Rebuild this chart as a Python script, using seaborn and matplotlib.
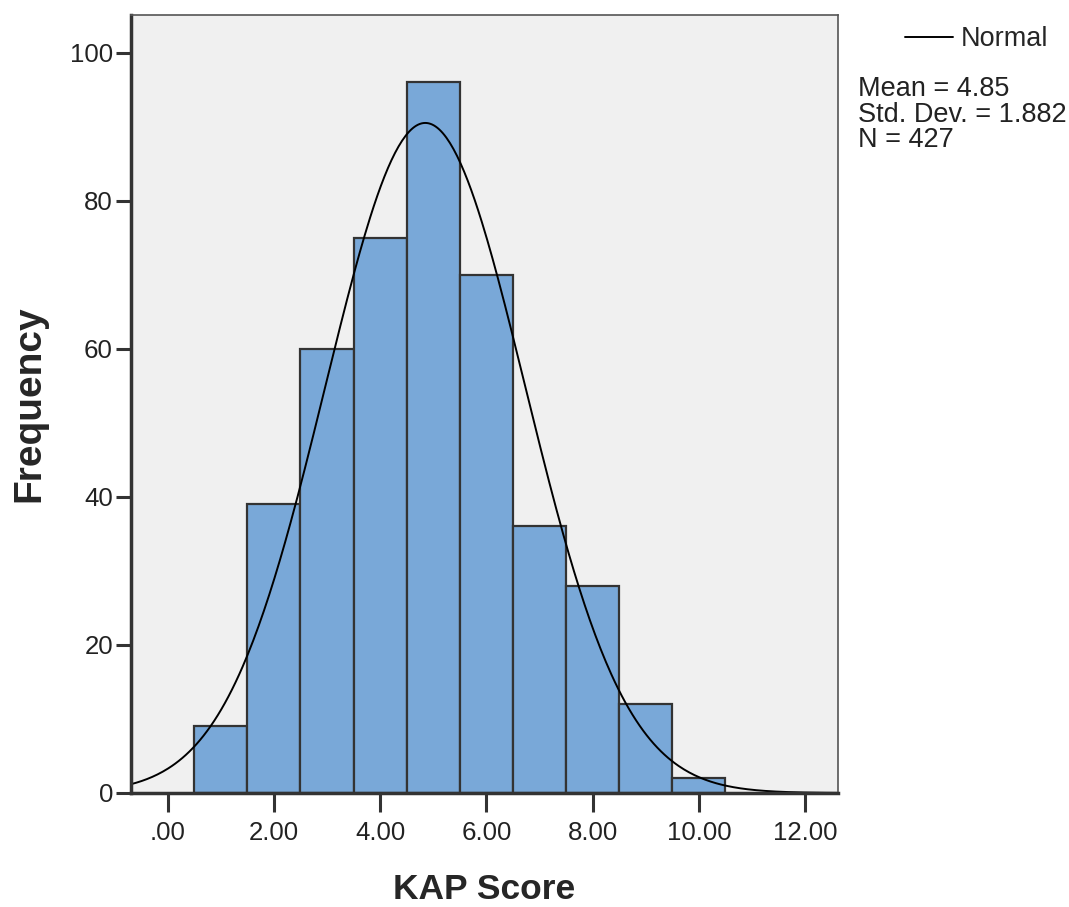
import numpy as np
import pandas as pd
import matplotlib
matplotlib.use('Agg')
import matplotlib.pyplot as plt
import seaborn as sns

# KAP score values (bin centres) and their frequencies
scores = [1, 2, 3, 4, 5, 6, 7, 8, 9, 10]
counts = [9, 39, 60, 75, 96, 70, 36, 28, 12, 2]

mean_val = 4.85
std_val = 1.882
n_total = 427

x_ticks = [0, 2, 4, 6, 8, 10, 12]
x_tick_labels = ['.00', '2.00', '4.00', '6.00', '8.00', '10.00', '12.00']
y_ticks = [0, 20, 40, 60, 80, 100]
stats = ['Mean = 4.85', 'Std. Dev. = 1.882', 'N = 427']


def main():
    sns.set_style('white')
    plt.rcParams['font.family'] = ['Liberation Sans', 'DejaVu Sans']

    df = pd.DataFrame({'score': scores, 'count': counts})

    fig = plt.figure(figsize=(10.69, 9.07), dpi=100)
    ax = fig.add_axes([0.1225, 0.1257, 0.6615, 0.8578])
    ax.set_facecolor('#f0f0f0')

    sns.histplot(data=df, x='score', weights='count', discrete=True,
                 color='#79a8d8', edgecolor='#333333', linewidth=1.6, alpha=1, ax=ax)

    # fitted normal curve, scaled to counts (bin width = 1)
    xs = np.linspace(-0.69, 12.62, 400)
    ys = n_total / (std_val * np.sqrt(2 * np.pi)) * np.exp(-0.5 * ((xs - mean_val) / std_val) ** 2)
    sns.lineplot(x=xs, y=ys, color='black', linewidth=1.4, label='Normal', ax=ax)

    ax.set_xlim(-0.69, 12.62)
    ax.set_ylim(0, 105.1)
    ax.set_xticks(x_ticks)
    ax.set_xticklabels(x_tick_labels)
    ax.set_yticks(y_ticks)
    ax.tick_params(axis='both', direction='out', width=2.2, colors='#333333',
                   labelsize=18.6, labelcolor='#222222', bottom=True, left=True)
    ax.tick_params(axis='x', length=14, pad=6)
    ax.tick_params(axis='y', length=11, pad=2)

    for side in ['left', 'bottom']:
        ax.spines[side].set_color('#333333')
        ax.spines[side].set_linewidth(2.5)
    for side in ['top', 'right']:
        ax.spines[side].set_color('#555555')
        ax.spines[side].set_linewidth(1.2)

    ax.set_xlabel('KAP Score', fontsize=25.5, fontweight='bold', labelpad=20)
    ax.set_ylabel('Frequency', fontsize=28, fontweight='bold')
    ax.yaxis.set_label_coords(-0.118, 0.5)

    ax.legend(loc='center left', bbox_to_anchor=(1.095, 0.969), frameon=False,
              fontsize=19.5, handlelength=1.75, handletextpad=0.3,
              borderpad=0, borderaxespad=0)

    for i, s in enumerate(stats):
        fig.text(858 / 1069, 1 - (96 + i * 25.5) / 907, s, fontsize=19.5,
                 va='baseline', ha='left', color='#222222')

    fig.savefig('out.png', dpi=100)


if __name__ == '__main__':
    main()
